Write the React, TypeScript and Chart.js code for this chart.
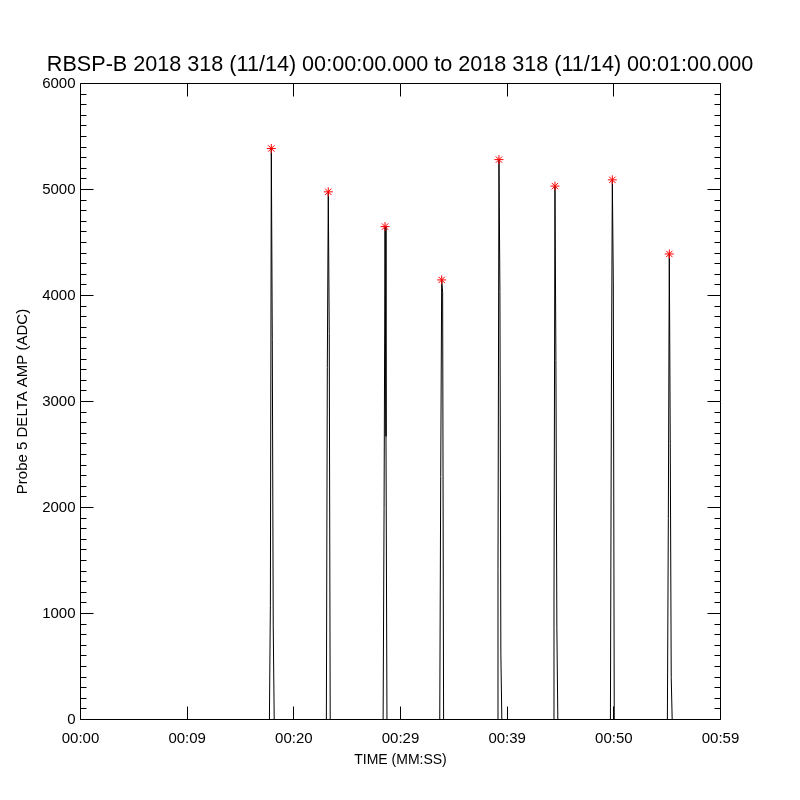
import React, { useEffect, useRef } from "react";
import { Chart, registerables } from "chart.js";

Chart.register(...registerables);

// ---------- text ----------
const TITLE = "RBSP-B 2018 318 (11/14) 00:00:00.000 to 2018 318 (11/14) 00:01:00.000";
const X_TITLE = "TIME (MM:SS)";
const Y_TITLE = "Probe 5 DELTA AMP (ADC)";
const xTickLabels = ["00:00", "00:09", "00:20", "00:29", "00:39", "00:50", "00:59"];

// ---------- axes ----------
const X_MIN = 0;
const X_MAX = 60;
const X_STEP = 10;
const Y_MIN = 0;
const Y_MAX = 6000;
const Y_STEP = 1000;
const Y_MINOR = 100;

// ---------- data (seconds, ADC) ----------
const recordStart = 0;
const recordEnd = 59.9;
const SAMPLE_DT = 0.09;
const pulseStarts = [17.71, 23.05, 28.37, 33.68, 39.05, 44.3, 49.68, 55.02];
const pulse1 = [0, 1075, 5387, 3587, 883, 0];
const pulse2 = [0, 3323, 4978, 3641, 0];
const pulse3 = [0, 1990, 4650, 2670, 0];
const pulse4 = [0, 2292, 4147, 4031, 0];
const pulse5 = [0, 1418, 5282, 4038, 615, 0];
const pulse6 = [0, 1118, 5032, 3388, 865, 0];
const pulse7 = [0, 3080, 5091, 4129, 0];
const pulse8 = [0, 1896, 4392, 2604, 399, 0];
const pulses = [pulse1, pulse2, pulse3, pulse4, pulse5, pulse6, pulse7, pulse8];

const FONT = "'Liberation Sans', Arial, sans-serif";

function buildLine() {
  const pts: { x: number; y: number }[] = [{ x: recordStart, y: 0 }];
  pulses.forEach((s, i) =>
    s.forEach((v, j) => pts.push({ x: pulseStarts[i] + j * SAMPLE_DT, y: v }))
  );
  pts.push({ x: recordEnd, y: 0 });
  return pts;
}

function buildPeaks() {
  return pulses.map((s, i) => {
    const m = Math.max(...s);
    const j = s.indexOf(m);
    return { x: pulseStarts[i] + j * SAMPLE_DT, y: m };
  });
}

const idlAxes = {
  id: "idlAxes",
  afterDatasetsDraw(chart: any) {
    const { ctx, chartArea, scales } = chart;
    const { left, right, top, bottom } = chartArea;
    const x = scales.x;
    const y = scales.y;
    const snap = (p: number) => Math.round(p - 0.5) + 0.5;
    ctx.save();
    ctx.strokeStyle = "#000";
    ctx.lineWidth = 1;
    ctx.beginPath();
    ctx.rect(left, top, right - left, bottom - top);
    for (let v = Y_MIN; v <= Y_MAX; v += Y_MINOR) {
      const py = snap(y.getPixelForValue(v));
      const len = v % Y_STEP === 0 ? 13 : 6;
      ctx.moveTo(left, py);
      ctx.lineTo(left + len, py);
      ctx.moveTo(right, py);
      ctx.lineTo(right - len, py);
    }
    x.ticks.forEach((t: any) => {
      const px = snap(x.getPixelForValue(t.value));
      ctx.moveTo(px, bottom);
      ctx.lineTo(px, bottom - 13);
      ctx.moveTo(px, top);
      ctx.lineTo(px, top + 13);
    });
    ctx.stroke();
    ctx.restore();
  },
};

export default function App() {
  const ref = useRef<HTMLCanvasElement | null>(null);

  useEffect(() => {
    if (!ref.current) return;
    const chart = new Chart(ref.current, {
      type: "scatter",
      data: {
        datasets: [
          {
            label: "peaks",
            data: buildPeaks(),
            pointStyle: "star",
            pointRadius: 4.5,
            borderColor: "#ff0000",
            backgroundColor: "#ff0000",
            borderWidth: 1,
            showLine: false,
          },
          {
            label: "amp",
            data: buildLine(),
            showLine: true,
            borderColor: "#000000",
            borderWidth: 1,
            pointRadius: 0,
            tension: 0,
            fill: false,
          },
        ],
      } as any,
      options: {
        responsive: false,
        maintainAspectRatio: false,
        animation: false,
        layout: { padding: 0 },
        plugins: {
          legend: { display: false },
          tooltip: { enabled: false },
          title: {
            display: true,
            text: TITLE,
            color: "#000",
            font: { family: FONT, size: 21.6, weight: "normal", lineHeight: 1.2 },
            padding: { top: 52.5, bottom: 5.08 },
          },
        },
        scales: {
          x: {
            type: "linear",
            min: X_MIN,
            max: X_MAX,
            grid: { display: false, drawTicks: false },
            border: { display: false },
            ticks: {
              stepSize: X_STEP,
              autoSkip: false,
              maxRotation: 0,
              color: "#000",
              padding: 10.5,
              font: { family: FONT, size: 15 },
              callback: (v: any) => xTickLabels[Math.round((Number(v) - X_MIN) / X_STEP)],
            },
            title: {
              display: true,
              text: X_TITLE,
              color: "#000",
              font: { family: FONT, size: 14 },
              padding: { top: 0, bottom: 31.6 },
            },
            afterFit: (s: any) => {
              s.height = 80.5;
            },
          },
          y: {
            type: "linear",
            position: "left",
            min: Y_MIN,
            max: Y_MAX,
            grid: { display: false, drawTicks: false },
            border: { display: false },
            ticks: {
              stepSize: Y_STEP,
              color: "#000",
              padding: 5,
              font: { family: FONT, size: 15 },
              callback: (v: any) => String(v),
            },
            title: {
              display: true,
              text: Y_TITLE,
              color: "#000",
              font: { family: FONT, size: 15 },
              padding: { top: 13.5, bottom: 0 },
            },
            afterFit: (s: any) => {
              s.width = 80.5;
            },
          },
          yRight: {
            type: "linear",
            position: "right",
            min: Y_MIN,
            max: Y_MAX,
            grid: { display: false, drawTicks: false },
            border: { display: false },
            ticks: { display: false },
            afterFit: (s: any) => {
              s.width = 79.5;
            },
          },
        },
      } as any,
      plugins: [idlAxes],
    });
    return () => chart.destroy();
  }, []);

  return (
    <div style={{ position: "absolute", left: 0, top: 0, width: 800, height: 800, background: "#fff" }}>
      <canvas ref={ref} width={800} height={800} />
    </div>
  );
}
